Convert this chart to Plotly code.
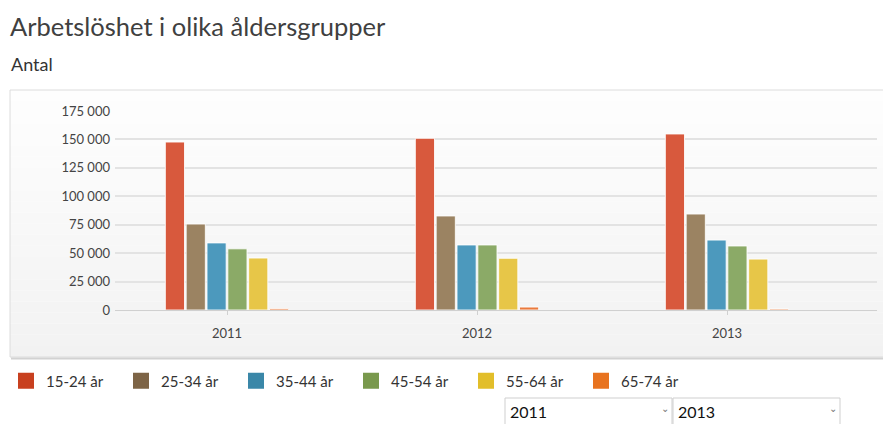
import plotly.graph_objects as go

years = ["2011", "2012", "2013"]
age_groups = ["15-24 år", "25-34 år", "35-44 år", "45-54 år", "55-64 år", "65-74 år"]
v_15_24 = [147700, 151000, 154800]
v_25_34 = [75600, 82700, 84400]
v_35_44 = [59000, 57200, 61500]
v_45_54 = [53800, 57200, 56300]
v_55_64 = [45700, 45500, 44800]
v_65_74 = [1200, 2600, 900]
series_values = [v_15_24, v_25_34, v_35_44, v_45_54, v_55_64, v_65_74]
bar_colors = ["#d8593d", "#9b8362", "#4c99bd", "#8baa67", "#e7c648", "#ea7a3d"]
legend_colors = ["#c8401f", "#7d6446", "#3a87a8", "#79994d", "#e2be2a", "#e8731f"]
y_ticks = [0, 25000, 50000, 75000, 100000, 125000, 150000, 175000]

W_FIG, H_FIG = 883, 424
L, R, T, B = 115, 877, 111, 310


def px_x(px):
    return (px - L) / (R - L)


def px_y(py):
    return (B - py) / (B - T)


fig = go.Figure()
for name, vals, col in zip(age_groups, series_values, bar_colors):
    fig.add_trace(go.Bar(
        x=years, y=vals, name=name, showlegend=False, legendgroup=name,
        marker=dict(color=col, line=dict(color="rgba(255,255,255,0.85)", width=1)),
    ))
for name, col in zip(age_groups, legend_colors):
    fig.add_trace(go.Scatter(
        x=[None], y=[None], mode="markers", name=name, legendgroup=name,
        marker=dict(symbol="square", size=16, color=col), showlegend=True,
    ))

shapes = []
# chart panel with a soft vertical gradient
n_strips = 24
top_px, bot_px = 90, 357
for i in range(n_strips):
    y_top = top_px + (bot_px - top_px) * i / n_strips
    y_bot = top_px + (bot_px - top_px) * (i + 1) / n_strips
    g = int(round(254 - (254 - 242) * (i + 0.5) / n_strips))
    shapes.append(dict(type="rect", xref="paper", yref="paper", x0=px_x(10), x1=px_x(895),
                       y0=px_y(y_bot), y1=px_y(y_top), fillcolor=f"rgb({g},{g},{g})",
                       line=dict(width=0), layer="below"))
shapes.append(dict(type="rect", xref="paper", yref="paper", x0=px_x(10), x1=px_x(895),
                   y0=px_y(357), y1=px_y(90), fillcolor="rgba(0,0,0,0)",
                   line=dict(color="#dcdcdc", width=1), layer="below"))
shapes.append(dict(type="line", xref="paper", yref="paper", x0=px_x(11), x1=px_x(895),
                   y0=px_y(358.5), y1=px_y(358.5), line=dict(color="#d2d2d2", width=2),
                   layer="below"))
# dropdown boxes
shapes.append(dict(type="rect", xref="paper", yref="paper", x0=px_x(505), x1=px_x(672),
                   y0=px_y(430), y1=px_y(398), fillcolor="white",
                   line=dict(color="#cfcfcf", width=1)))
shapes.append(dict(type="rect", xref="paper", yref="paper", x0=px_x(673), x1=px_x(840),
                   y0=px_y(430), y1=px_y(398), fillcolor="white",
                   line=dict(color="#cfcfcf", width=1)))

annotations = [
    dict(text="Antal", xref="paper", yref="paper", x=px_x(9), y=px_y(64),
         xanchor="left", yanchor="middle", showarrow=False,
         font=dict(family="Lato, sans-serif", size=18, color="#333333")),
    dict(text="2011", xref="paper", yref="paper", x=px_x(508), y=px_y(411),
         xanchor="left", yanchor="middle", showarrow=False,
         font=dict(family="Lato, sans-serif", size=16, color="#111111")),
    dict(text="2013", xref="paper", yref="paper", x=px_x(676), y=px_y(411),
         xanchor="left", yanchor="middle", showarrow=False,
         font=dict(family="Lato, sans-serif", size=16, color="#111111")),
    dict(text="⌄", xref="paper", yref="paper", x=px_x(665), y=px_y(408),
         xanchor="center", yanchor="middle", showarrow=False,
         font=dict(family="DejaVu Sans", size=10, color="#777777")),
    dict(text="⌄", xref="paper", yref="paper", x=px_x(833), y=px_y(408),
         xanchor="center", yanchor="middle", showarrow=False,
         font=dict(family="DejaVu Sans", size=10, color="#777777")),
]

fig.update_layout(
    width=W_FIG, height=H_FIG,
    margin=dict(l=L, r=W_FIG - R, t=T, b=H_FIG - B, pad=0, autoexpand=False),
    paper_bgcolor="white", plot_bgcolor="rgba(0,0,0,0)",
    separators=", ",
    barmode="group", bargap=0.5, bargroupgap=0.08,
    title=dict(text="Arbetslöshet i olika åldersgrupper", x=10 / W_FIG, xanchor="left",
               xref="container", y=1 - 27 / H_FIG, yref="container", yanchor="middle",
               font=dict(family="Lato, sans-serif", size=25.5, color="#404040")),
    font=dict(family="Lato, sans-serif", size=13, color="#444444"),
    xaxis=dict(type="category", range=[-0.448, 2.6], showgrid=False,
               ticks="outside", ticklen=4, tickcolor="#d0d0d0",
               showline=True, linecolor="#d0d0d0", linewidth=1, ticklabelstandoff=7,
               tickfont=dict(size=13, color="#444444"), fixedrange=True),
    yaxis=dict(range=[0, 175000], tickvals=y_ticks, tickformat=",d",
               showgrid=True, gridcolor="#e3e3e3", gridwidth=1.5,
               zeroline=False, showline=False, ticks="", ticklabelstandoff=4,
               tickfont=dict(size=13, color="#444444"), fixedrange=True),
    legend=dict(orientation="h", x=px_x(6), y=px_y(381), xanchor="left", yanchor="middle",
                xref="paper", yref="paper", bgcolor="rgba(0,0,0,0)",
                font=dict(family="Lato, sans-serif", size=15, color="#333333"),
                itemsizing="trace", entrywidth=70, entrywidthmode="pixels",
                itemclick=False, itemdoubleclick=False),
    shapes=shapes, annotations=annotations,
)

fig.write_html("out.html", config={"displayModeBar": False},
               post_script="document.body.style.margin='0px';")
